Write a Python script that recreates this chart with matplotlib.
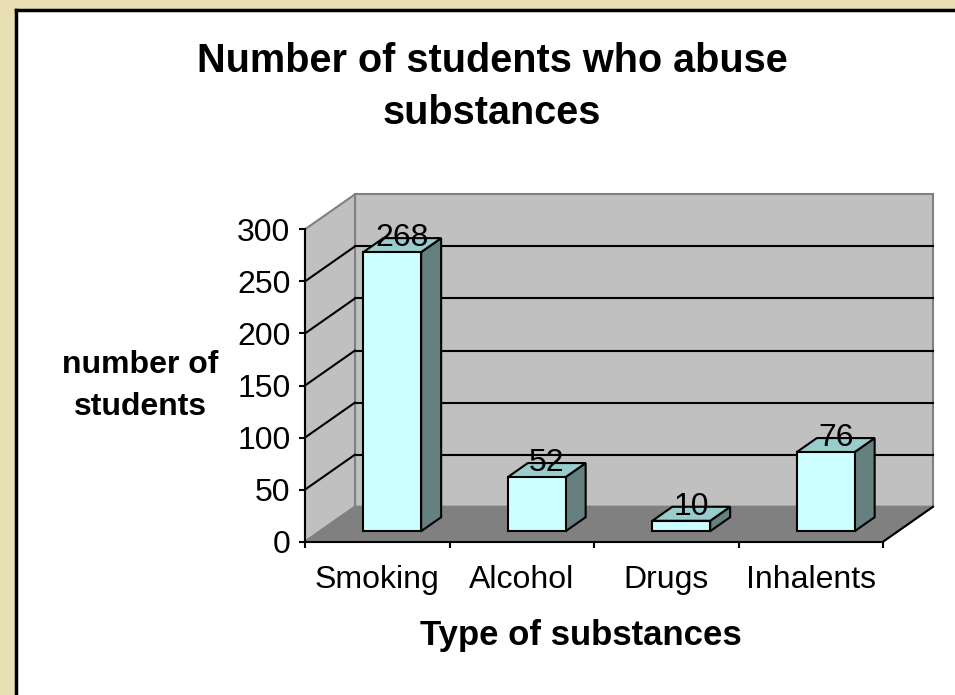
import matplotlib
matplotlib.use("Agg")
import matplotlib.pyplot as plt
from matplotlib.patches import Polygon, Rectangle

categories = ["Smoking", "Alcohol", "Drugs", "Inhalents"]
values = [268, 52, 10, 76]
yticks = [0, 50, 100, 150, 200, 250, 300]
title = "Number of students who abuse\nsubstances"
xlabel = "Type of substances"
ylabel = "number of\nstudents"

W, H = 955, 695
DPI = 100
plt.rcParams['font.family'] = ['Liberation Sans', 'DejaVu Sans']

fig = plt.figure(figsize=(W / DPI, H / DPI), dpi=DPI)
fig.patch.set_facecolor('#E8DFB5')

# white panel with black top/left border
fig.patches.append(Rectangle((16 / W, 0), 1, 1 - 9.5 / H, transform=fig.transFigure,
                             facecolor='white', edgecolor='none', zorder=-10))
fig.lines.append(plt.Line2D([16 / W, 16 / W], [0, 1 - 9.5 / H], transform=fig.transFigure,
                            color='black', lw=2.5, zorder=-9))
fig.lines.append(plt.Line2D([16 / W, 1], [1 - 9.5 / H, 1 - 9.5 / H], transform=fig.transFigure,
                            color='black', lw=2.5, zorder=-9))

# axes box (front plane)
x_left, x_right = 305, 883
row0, row300 = 541.7, 229.3
ax = fig.add_axes([x_left / W, (H - row0) / H, (x_right - x_left) / W, (row0 - row300) / H])
ax.set_zorder(1)
ax.set_xlim(0, len(categories))
ax.set_ylim(0, 300)
ax.patch.set_alpha(0)

px_per_cat = (x_right - x_left) / len(categories)
px_per_val = (row0 - row300) / 300
DX = 50 / px_per_cat
DY = 35 / px_per_val
ymax = 300
n = len(categories)

wall = '#C0C0C0'
floor = '#808080'
edge_gray = '#808080'

# back wall
ax.add_patch(Polygon([(DX, DY), (n + DX, DY), (n + DX, ymax + DY), (DX, ymax + DY)],
                     closed=True, facecolor=wall, edgecolor=edge_gray, lw=1.5, clip_on=False, zorder=1))
# left wall
ax.add_patch(Polygon([(0, 0), (DX, DY), (DX, ymax + DY), (0, ymax)],
                     closed=True, facecolor=wall, edgecolor=edge_gray, lw=1.5, clip_on=False, zorder=1))
# floor
ax.add_patch(Polygon([(0, 0), (n, 0), (n + DX, DY), (DX, DY)],
                     closed=True, facecolor=floor, edgecolor=edge_gray, lw=1.5, clip_on=False, zorder=1))
ax.plot([n, n + DX], [0, DY], color='black', lw=1.5, clip_on=False, zorder=2)

# gridlines
for v in yticks[1:-1]:
    ax.plot([DX, n + DX], [v + DY, v + DY], color='black', lw=1.5, clip_on=False, zorder=2)
    ax.plot([0, DX], [v, v + DY], color='black', lw=1.5, clip_on=False, zorder=2)

# bars
t0, t1 = 0.3, 0.7
bw = 0.4
front_c = '#CCFFFF'
side_c = '#668080'
top_c = '#99CCCC'
for i, v in enumerate(values):
    x0 = i + 0.5 - bw / 2
    x1 = i + 0.5 + bw / 2
    a0x, a0y = t0 * DX, t0 * DY
    a1x, a1y = t1 * DX, t1 * DY
    ax.add_patch(Polygon([(x1 + a0x, a0y), (x1 + a1x, a1y), (x1 + a1x, v + a1y), (x1 + a0x, v + a0y)],
                         closed=True, facecolor=side_c, edgecolor='black', lw=1.5, clip_on=False, zorder=3))
    ax.add_patch(Polygon([(x0 + a0x, v + a0y), (x1 + a0x, v + a0y), (x1 + a1x, v + a1y), (x0 + a1x, v + a1y)],
                         closed=True, facecolor=top_c, edgecolor='black', lw=1.5, clip_on=False, zorder=3))
    ax.add_patch(Polygon([(x0 + a0x, a0y), (x1 + a0x, a0y), (x1 + a0x, v + a0y), (x0 + a0x, v + a0y)],
                         closed=True, facecolor=front_c, edgecolor='black', lw=1.5, clip_on=False, zorder=4))
    ax.annotate(str(v), xy=(i + 0.5 + 0.5 * DX, v + 0.5 * DY), xytext=(0, 5), textcoords='offset points',
                ha='center', va='center', fontsize=23, color='black', zorder=5, annotation_clip=False)

# spines and ticks
for s in ['top', 'right']:
    ax.spines[s].set_visible(False)
ax.spines['left'].set_linewidth(1.5)
ax.spines['bottom'].set_linewidth(1.5)
ax.spines['left'].set_zorder(6)
ax.spines['bottom'].set_zorder(6)
ax.set_yticks(yticks)
ax.set_yticklabels([str(t) for t in yticks])
ax.set_xticks(range(n + 1))
ax.set_xticklabels([''] * (n + 1))
ax.set_xticks([i + 0.5 for i in range(n)], minor=True)
ax.set_xticklabels(categories, minor=True)
ax.tick_params(axis='y', direction='out', length=4.5, width=1.5, labelsize=23, pad=6)
ax.tick_params(axis='x', which='major', direction='out', length=4.5, width=1.5)
ax.tick_params(axis='x', which='minor', length=0, labelsize=23, pad=17)

fig.text(140 / W, 1 - 386 / H, ylabel, ha='center', va='center', fontsize=23, fontweight='bold',
         multialignment='center', linespacing=1.5)
fig.text(581 / W, 1 - 635 / H, xlabel, ha='center', va='center', fontsize=25, fontweight='bold')
fig.text(492 / W, 1 - 87 / H, title, ha='center', va='center', fontsize=28.5, fontweight='bold',
         multialignment='center', linespacing=1.5)

fig.savefig('out.png', dpi=DPI, facecolor=fig.get_facecolor())
